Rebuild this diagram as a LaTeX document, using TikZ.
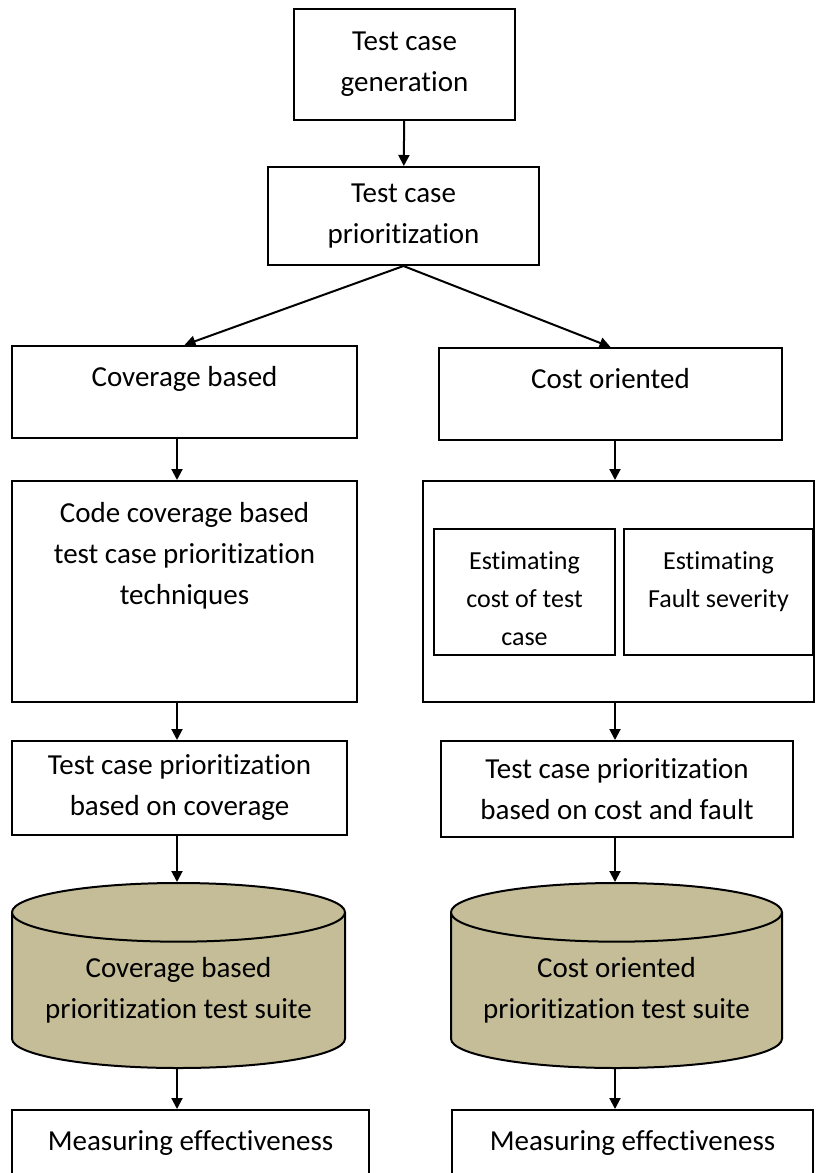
\documentclass[tikz,border=0pt]{standalone}
\usepackage{fontspec}
\setmainfont{Carlito}[RawFeature={-liga;-clig;-calt;-dlig}]
\usetikzlibrary{arrows.meta,shapes.geometric}
\definecolor{suitetan}{HTML}{C4BD97}

\begin{document}
\begin{tikzpicture}[x=1pt, y=-1pt,
    font=\fontsize{29}{41}\selectfont,
    box/.style={draw, line width=2pt, inner sep=0pt, align=center},
    words/.style={align=center, inner sep=0pt, anchor=north},
    suite/.style={cylinder, shape border rotate=90, aspect=0.22, draw, line width=2pt,
        fill=suitetan, align=center, inner sep=0pt, anchor=north},
    arr/.style={-{Triangle[length=11pt, width=11pt]}, line width=2pt}]
    \useasboundingbox (0,0) rectangle (816,1173);

    % Nodes
    \node[box, minimum width=221, minimum height=111] (Gen) at (404.5, 64.5) {Test case\\generation};
    \node[box, minimum width=271, minimum height=98] (Prio) at (403.5, 216) {Test case\\prioritization};

    \node[box, minimum width=345, minimum height=92] (CovBased) at (184.5, 392) {};
    \node[words] (CovBasedText) at (184.5, 366) {Coverage based};
    \node[box, minimum width=343, minimum height=92] (CostOr) at (610.5, 394) {};
    \node[words] (CostOrText) at (610.5, 368) {Cost oriented};

    \node[box, minimum width=345, minimum height=221] (Code) at (184.5, 591.5) {};
    \node[words] (CodeText) at (184.5, 502) {Code coverage based\\test case prioritization\\techniques};
    \node[box, minimum width=391, minimum height=221] (CostFactors) at (618.5, 591.5) {};
    \node[box, minimum width=181, minimum height=126] (EstCost) at (524.5, 592) {};
    \node[words, font=\fontsize{26}{38}\selectfont] (EstCostText) at (524.5, 551) {Estimating\\cost of test\\case};
    \node[box, minimum width=189, minimum height=126] (EstFault) at (718.5, 592) {};
    \node[words, font=\fontsize{26}{38}\selectfont] (EstFaultText) at (718.5, 551) {Estimating\\Fault severity};

    \node[box, minimum width=335, minimum height=94] (PrioCov) at (179.5, 788) {Test case prioritization\\based on coverage};
    \node[box, minimum width=352, minimum height=96] (PrioCost) at (617, 789) {Test case prioritization\\based on cost and fault};

    \node[suite, minimum width=333, minimum height=185] (CovSuite) at (178.5, 882) {Coverage based\\prioritization test suite};
    \node[suite, minimum width=331, minimum height=185] (CostSuite) at (616.5, 882) {Cost oriented\\prioritization test suite};

    \node[box, minimum width=357, minimum height=66] (MeasCov) at (190.5, 1143) {Measuring effectiveness};
    \node[box, minimum width=361, minimum height=66] (MeasCost) at (632.5, 1143) {Measuring effectiveness};

    \coordinate (LeftCol) at (177, 0);
    \coordinate (RightCol) at (615, 0);

    % Arrows
    \draw[arr] (Gen) -- (Prio);
    \draw[arr] (Prio.south) -- (CovBased.north);
    \draw[arr] (Prio.south) -- (CostOr.north);
    \draw[arr] (CovBased.south -| LeftCol) -- (Code.north -| LeftCol);
    \draw[arr] (CostOr.south -| RightCol) -- (CostFactors.north -| RightCol);
    \draw[arr] (Code.south -| LeftCol) -- (PrioCov.north -| LeftCol);
    \draw[arr] (CostFactors.south -| RightCol) -- (PrioCost.north -| RightCol);
    \draw[arr] (PrioCov.south -| LeftCol) -- (CovSuite.north -| LeftCol);
    \draw[arr] (PrioCost.south -| RightCol) -- (CostSuite.north -| RightCol);
    \draw[arr] (CovSuite.south -| LeftCol) -- (MeasCov.north -| LeftCol);
    \draw[arr] (CostSuite.south -| RightCol) -- (MeasCost.north -| RightCol);
\end{tikzpicture}
\end{document}
